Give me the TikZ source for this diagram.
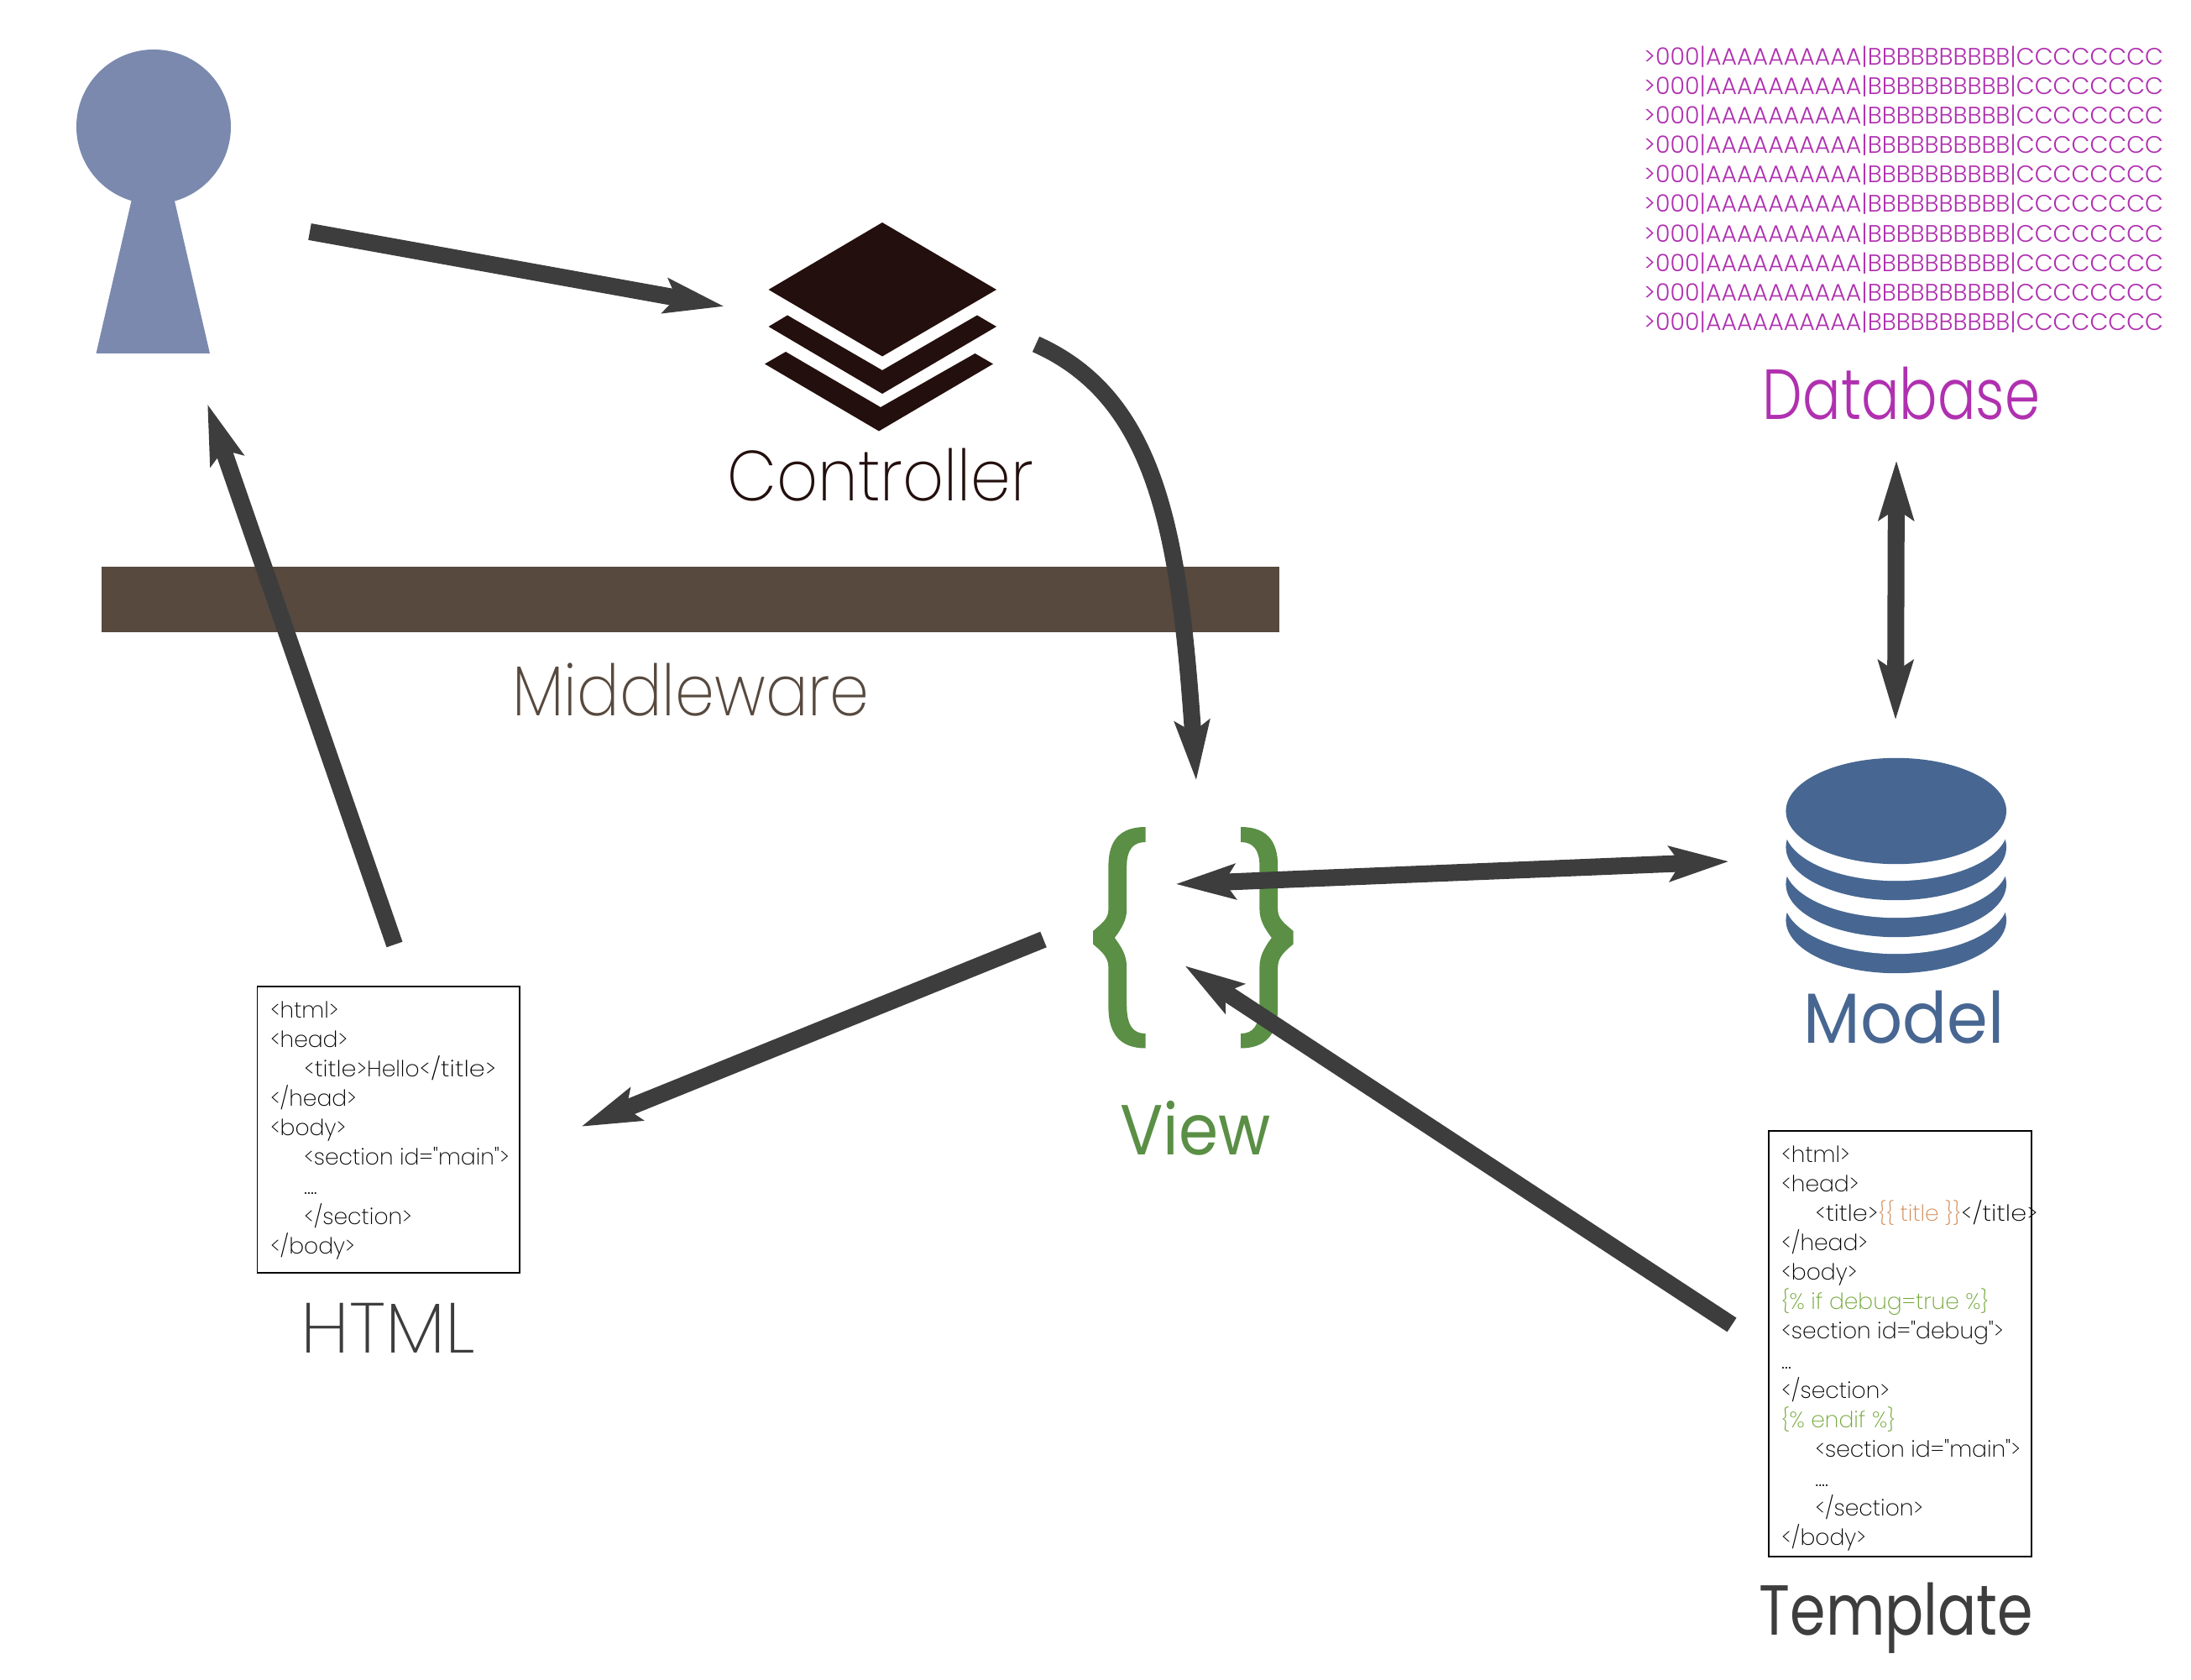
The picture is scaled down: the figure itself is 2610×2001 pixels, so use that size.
\documentclass[tikz,border=0pt]{standalone}
\usepackage{fontspec}
\usepackage{graphicx}
\usetikzlibrary{arrows.meta}
\newfontfamily\thinfont{Poppins ExtraLight}
\newfontfamily\lightfont{Poppins Light}
\newfontfamily\regfont{Poppins}
\definecolor{usercol}{RGB}{122,137,173}
\definecolor{arrowcol}{RGB}{61,61,61}
\definecolor{ctrlcol}{RGB}{35,15,13}
\definecolor{midcol}{RGB}{87,73,62}
\definecolor{dbcol}{RGB}{176,48,176}
\definecolor{viewcol}{RGB}{90,143,69}
\definecolor{modelcol}{RGB}{71,103,146}
\definecolor{tagcol}{RGB}{208,138,85}
\definecolor{logiccol}{RGB}{114,166,55}
\tikzset{
    flow/.style={line width=5.7pt, color=arrowcol},
    >={Stealth[length=20pt,width=11.5pt,inset=3.5pt]},
    caption/.style={anchor=base, inner sep=0pt, font=\thinfont\fontsize{24}{24}\selectfont},
    midweight/.style={font=\lightfont\fontsize{24}{24}\selectfont},
    heavy/.style={font=\regfont\fontsize{24}{24}\selectfont},
    codebox/.style={draw=black, line width=0.5pt, anchor=north west, inner sep=0pt},
    codetext/.style={anchor=north west, align=left, inner sep=0pt, font=\thinfont\fontsize{7.55}{9.98}\selectfont},
    dbline/.style={anchor=base west, inner sep=0pt, text=dbcol, font=\lightfont\fontsize{8.08}{8.08}\selectfont}
}
\newcommand{\viewbrace}{(1364.6,985) .. controls (1335,985) and (1320.4,1000) .. (1320.4,1031.5) -- (1320.4,1083)
    .. controls (1320.4,1095) and (1312,1100) .. (1302,1109) -- (1302,1124.5)
    .. controls (1312,1133) and (1320.4,1140) .. (1320.4,1152) -- (1320.4,1200)
    .. controls (1320.4,1232) and (1335,1248.5) .. (1364.6,1248.5) -- (1364.6,1231)
    .. controls (1350,1231) and (1342.2,1222) .. (1342.2,1197) -- (1342.2,1152)
    .. controls (1342.2,1138) and (1336,1128) .. (1327.8,1117)
    .. controls (1336,1106) and (1342.2,1096) .. (1342.2,1083) -- (1342.2,1031.5)
    .. controls (1342.2,1012) and (1350,1003) .. (1364.6,1003) -- cycle}
\newcommand{\ind}{\hspace*{11.4pt}}
\newcommand{\opentitle}{\scalebox{1.08}[1]{<title>}}
\newcommand{\closetitle}{\scalebox{1.14}[1]{</title>}}
\begin{document}
\begin{tikzpicture}[x=0.01cm, y=-0.01cm]
    \useasboundingbox (0,0) rectangle (2610,2001);

    % user
    \fill[usercol] (183,151) circle [radius=92];
    \fill[usercol] (157.5,235) -- (207,235) -- (250,421) -- (114.5,421) -- cycle;

    % controller
    \fill[ctrlcol] (1051,265) -- (1187,345) -- (1051,424.5) -- (915.5,345) -- cycle;
    \fill[ctrlcol] (938,375.5) -- (1051,441) -- (1164,375.5) -- (1187,389) -- (1051,469) -- (915.5,389) -- cycle;
    \fill[ctrlcol] (936,419) -- (1049,485) -- (1161.5,421) -- (1183,433.5) -- (1047,513.5) -- (911,433.5) -- cycle;
    \node[caption, text=ctrlcol] (controller) at (1049,597) {\scalebox{.905}[1]{Controller}};

    % middleware
    \fill[midcol] (121,675) rectangle (1524,753);
    \node[caption, text=midcol] (middleware) at (823,852) {\scalebox{.89}[1]{Middleware}};

    % database
    \foreach \y in {0,...,9}
        \node[dbline] (row\y) at (1957.5,{77.5+35.1*\y}) {>000|AAAAAAAAAA|BBBBBBBBBB|CCCCCCCC};
    \node[caption, midweight, text=dbcol] (database) at (2265,500) {\scalebox{.8}[1]{Database}};

    % model
    \foreach \y in {1096,1053,1009} {
        \fill[modelcol] (2258.7,\y) ellipse [x radius=131.3, y radius=63.2];
        \fill[white] (2258.7,\y-23) ellipse [x radius=133, y radius=63.2];
    }
    \fill[modelcol] (2258.7,966) ellipse [x radius=131.3, y radius=63.2];
    \node[caption, heavy, text=modelcol] (model) at (2268,1242) {\scalebox{.93}[1]{Model}};

    % view
    \fill[viewcol] \viewbrace;
    \fill[viewcol, shift={(2842.6,0)}, xscale=-1] \viewbrace;
    \node[caption, heavy, text=viewcol] (view) at (1424,1375) {\scalebox{.9}[1]{View}};

    % html
    \node[codebox, minimum width=312.5*0.01cm, minimum height=341*0.01cm] (html) at (305.7,1174) {};
    \node[codetext] (htmlcode) at (321.3,1192) {%
        <html>\\
        <head>\\
        \ind\opentitle Hello\closetitle\\
        </head>\\
        <body>\\
        \ind<section id="main">\\
        \ind....\\
        \ind</section>\\
        </body>};
    \node[caption, text=arrowcol] (htmllabel) at (462,1611.7) {\scalebox{1.03}[1]{HTML}};

    % template
    \node[codebox, minimum width=313*0.01cm, minimum height=507*0.01cm] (template) at (2106,1346) {};
    \node[codetext] (templatecode) at (2121.5,1364) {%
        <html>\\
        <head>\\
        \ind\opentitle\textcolor{tagcol}{\{\{ title \}\}}\closetitle\\
        </head>\\
        <body>\\
        \textcolor{logiccol}{\{\% if debug=true \%\}}\\
        <section id="debug">\\
        ...\\
        </section>\\
        \textcolor{logiccol}{\{\% endif \%\}}\\
        \ind<section id="main">\\
        \ind....\\
        \ind</section>\\
        </body>};
    \node[caption, heavy, text=arrowcol] (templatelabel) at (2259,1947.5) {\scalebox{.81}[1]{Template}};

    % connector ends
    \coordinate (userout) at (369,276);
    \coordinate (ctrlin) at (863,365);
    \coordinate (ctrlout) at (1234,410);
    \coordinate (viewtop) at (1425,930);
    \coordinate (viewout) at (1243,1119);
    \coordinate (htmlin) at (692,1342);
    \coordinate (htmlout) at (470,1125);
    \coordinate (userin) at (247,481);
    \coordinate (tplout) at (2063,1578);
    \coordinate (viewin) at (1411,1150);
    \coordinate (viewmid) at (1400,1053);
    \coordinate (modelin) at (2060,1026);
    \coordinate (dbend) at (2259,548);
    \coordinate (modelup) at (2258,858);

    \draw[flow, ->] (userout) -- (ctrlin);
    \draw[flow, ->] (ctrlout) .. controls (1380,475) and (1405,640) .. (viewtop);
    \draw[flow, ->] (viewout) -- (htmlin);
    \draw[flow, ->] (htmlout) -- (userin);
    \draw[flow, ->] (tplout) -- (viewin);
    \draw[flow, <->] (viewmid) -- (modelin);
    \draw[flow, <->] (dbend) -- (modelup);
\end{tikzpicture}
\end{document}
